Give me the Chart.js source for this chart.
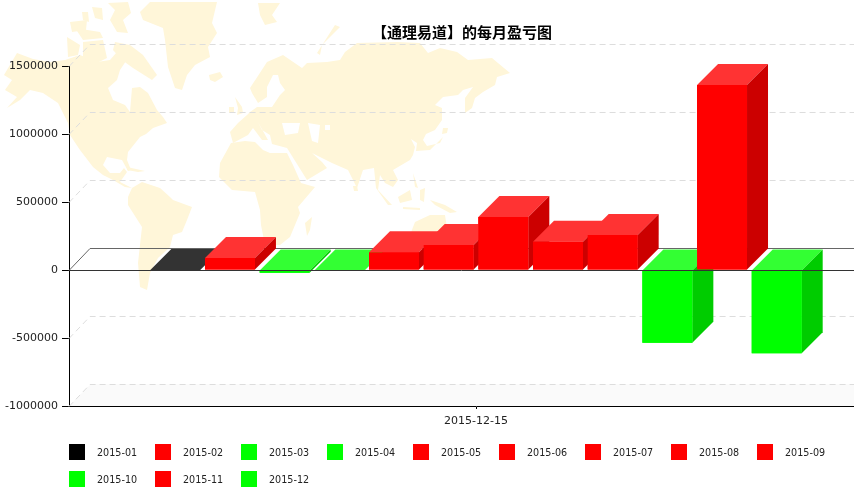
<!DOCTYPE html>
<html><head><meta charset="utf-8">
<style>
html,body{margin:0;padding:0;background:#fff;overflow:hidden}
#wrap{position:relative;width:854px;height:504px;overflow:hidden}
#map{position:absolute;left:0;top:0}
canvas{position:absolute;left:0;top:0}
</style>
<script src="https://cdn.jsdelivr.net/npm/chart.js@4/dist/chart.umd.min.js"></script>
</head><body>
<div id="wrap">
<svg id="map" width="854" height="504" viewBox="0 0 854 504">
<g fill="#FFF6D9" fill-rule="evenodd">
<path d="M4 75L17 53L33 59L50 62L65 60L80 55L97 62L110 60L117 52L128 58L120 70L117 80L108 88L113 100L125 105L130 112L132 88L140 87L148 93L157 110L163 117L167 123L153 128L146 134L140 137L128 152L127 160L131 170L128 171L122 160L107 157L103 165L110 173L120 173L124 168L127 172L120 182L132 188L125 187L113 180L103 175L93 167L80 150L70 135L68 123L58 103L43 93L30 90L20 100L7 108L17 97L5 90L12 80Z"/>
<path d="M67 37L80 45L78 55L68 57Z"/><path d="M70 22L87 20L86 30L72 32Z"/><path d="M82 12L88 12L89 22L83 20Z"/>
<path d="M92 7L102 8L103 20L95 18Z"/><path d="M108 3L128 2L131 13L123 20L128 33L117 32L110 20L115 10Z"/>
<path d="M115 42L130 45L143 55L157 75L152 80L133 68L122 60L113 50Z"/><path d="M83 42L103 40L107 58L93 65L83 57Z"/><path d="M75 28L100 32L103 38L83 40Z"/>
<path d="M127 167L145 171L138 172L127 170Z"/>
<path d="M150 2L217 2L212 23L217 33L208 47L210 57L195 65L187 75L182 90L175 88L168 67L165 40L163 28L143 20L140 12Z"/>
<path d="M209 75L220 72L223 77L215 82L210 80Z"/>
<path d="M258 3L280 3L272 15L277 22L265 25L260 15Z"/>
<path d="M317 53L335 25L340 27L322 45L320 55Z"/>
<path d="M132 188L142 182L160 188L170 197L173 200L192 207L187 220L182 232L173 235L170 247L158 258L150 273L147 290L140 287L138 263L142 227L128 205L128 197Z"/>
<path d="M302 68L307 63L327 62L340 60L345 52L357 43L397 42L420 43L428 53L440 48L457 52L468 60L492 58L510 73L497 77L495 85L483 92L475 98L472 108L465 113L465 98L473 87L463 90L458 95L443 97L435 105L442 108L442 120L435 130L426 134L423 140L427 146L440 143L443 137L430 150L416 151L417 143L411 139L415 147L413 155L410 160L393 170L398 180L393 187L385 183L380 175L378 190L392 205L388 205L376 188L374 168L363 170L357 188L348 170L332 163L320 157L312 153L322 162L327 168L307 180L292 156L287 148L272 144L270 135L262 130L258 122L268 140L262 140L253 128L248 135L233 143L230 132L238 123L247 115L250 112L257 107L272 107L280 95L285 90L280 83L278 75L273 75L267 87L267 97L258 103L252 93L250 88L267 62L283 55Z M282 123L300 123L298 133L285 135Z M308 123L320 125L318 143L312 141Z M325 125L330 125L330 130L325 130Z"/>
<path d="M235 97L242 107L243 113L237 115L238 108Z"/><path d="M229 107L234 107L234 113L229 113Z"/>
<path d="M443 128L448 128L447 133L442 134Z"/>
<path d="M231 143L245 141L255 142L263 150L270 153L287 153L293 165L301 183L315 187L298 207L300 213L290 237L280 245L265 245L261 225L260 210L255 192L232 190L219 177L220 163Z"/>
<path d="M305 223L312 217L310 230L307 236Z"/>
<path d="M353 186L357 186L358 191L354 191Z"/>
<path d="M398 197L410 190L412 200L400 203Z"/><path d="M413 173L418 188L415 187Z"/>
<path d="M420 190L425 188L424 202L420 200Z"/><path d="M403 207L420 208L420 210L403 209Z"/>
<path d="M430 200L445 205L457 212L450 213L435 205Z"/>
<path d="M415 222L430 215L445 215L447 228L444 235L410 235Z"/>
</g>
</svg>
<canvas id="c" width="883" height="504" style="width:883px;height:504px"></canvas>
</div>
<script>
const categories = ["2015-12-15"];
const months = ["2015-01","2015-02","2015-03","2015-04","2015-05","2015-06","2015-07","2015-08","2015-09","2015-10","2015-11","2015-12"];
const profits = [0,88000,-20000,-6000,130000,184000,390000,208000,257000,-535000,1360000,-612000];
const frontColors = ["#000000","#FF0000","#00FF00","#00FF00","#FF0000","#FF0000","#FF0000","#FF0000","#FF0000","#00FF00","#FF0000","#00FF00"];
const topColors = ["#333333","#FF3333","#33FF33","#33FF33","#FF3333","#FF3333","#FF3333","#FF3333","#FF3333","#33FF33","#FF3333","#33FF33"];
const sideColors = ["#000000","#CC0000","#00CC00","#00CC00","#CC0000","#CC0000","#CC0000","#CC0000","#CC0000","#00CC00","#CC0000","#00CC00"];
const titleText = "【通理易道】的每月盈亏图";
const yMin = -1000000, yMax = 1500000, yStep = 500000;

const DEPTH = 21, LINE_DEPTH = 22, LEGEND_FONT = "9.6px 'DejaVu Sans'";
function poly(ctx, pts, fill){
  ctx.beginPath();
  pts.forEach((p,i)=> i ? ctx.lineTo(p[0],p[1]) : ctx.moveTo(p[0],p[1]));
  ctx.closePath(); ctx.fillStyle = fill; ctx.fill();
}
const threeD = {
  id:'threeD',
  beforeDatasetsDraw(chart){
    const ctx = chart.ctx, ys = chart.scales.y, L = chart.chartArea.left, R = 854;
    ctx.save();
    const by = ys.getPixelForValue(yMin);
    poly(ctx,[[L,by],[L+LINE_DEPTH,by-LINE_DEPTH],[R,by-LINE_DEPTH],[R,by]],'#FAFAFA');
    ctx.lineWidth = 1; ctx.strokeStyle = '#DDDDDD'; ctx.setLineDash([6,4]);
    for(let v=yMin; v<=yMax; v+=yStep){
      if(v===0) continue;
      const y = Math.round(ys.getPixelForValue(v))+0.5;
      ctx.beginPath(); ctx.moveTo(L,y); ctx.lineTo(L+DEPTH,y-LINE_DEPTH); ctx.lineTo(R,y-LINE_DEPTH); ctx.stroke();
    }
    ctx.restore();
  },
  afterDatasetsDraw(chart){
    const ctx = chart.ctx, ys = chart.scales.y, L = chart.chartArea.left, R = 854;
    const zero = ys.getPixelForValue(0);
    const bar = (i)=>{
      const el = chart.getDatasetMeta(i).data[0];
      const {x,y,base,width} = el.getProps(['x','y','base','width'],true);
      const x1=x-width/2, x2=x+width/2, t=Math.min(y,base), b=Math.max(y,base);
      poly(ctx,[[x1,t],[x1+DEPTH,t-DEPTH],[x2+DEPTH,t-DEPTH],[x2,t]],topColors[i]);
      poly(ctx,[[x2,t],[x2+DEPTH,t-DEPTH],[x2+DEPTH,b-DEPTH],[x2,b]],sideColors[i]);
      el.draw(ctx);
    };
    ctx.save();
    ctx.setLineDash([]); ctx.lineWidth = 1;
    const zy = Math.round(zero)+0.5;
    ctx.strokeStyle = '#666666';
    ctx.beginPath(); ctx.moveTo(L,zy); ctx.lineTo(L+DEPTH,zy-LINE_DEPTH); ctx.lineTo(R,zy-LINE_DEPTH); ctx.stroke();
    profits.forEach((v,i)=>{ if(v<=0) bar(i); });
    ctx.strokeStyle = '#333333';
    ctx.beginPath(); ctx.moveTo(L,zy); ctx.lineTo(R,zy); ctx.stroke();
    profits.forEach((v,i)=>{ if(v>0) bar(i); });
    ctx.restore();
  },
  afterDraw(chart){
    const ctx = chart.ctx, L = chart.chartArea.left;
    ctx.save();
    ctx.fillStyle = '#000';
    ctx.textBaseline = 'middle'; ctx.textAlign = 'center';
    ctx.font = "bold 15px 'Noto Sans CJK SC'";
    ctx.fillText(titleText, 462, 32);
    ctx.textAlign = 'left';
    ctx.font = LEGEND_FONT;
    months.forEach((m,i)=>{
      const col = i%9, row = Math.floor(i/9);
      const x = L + col*86, y = 444 + row*27;
      ctx.fillStyle = frontColors[i];
      ctx.fillRect(x,y,16,16);
      ctx.fillStyle = '#222222';
      ctx.fillText(m, x+28, y+9);
    });
    ctx.restore();
  }
};
new Chart(document.getElementById('c'),{
  type:'bar',
  data:{
    labels:categories,
    datasets:months.map((m,i)=>({label:m,data:[profits[i]],backgroundColor:frontColors[i],borderWidth:0}))
  },
  options:{
    responsive:false, animation:false, devicePixelRatio:1,
    layout:{padding:{top:66,left:0,right:0,bottom:0}},
    datasets:{bar:{categoryPercentage:0.806,barPercentage:0.914}},
    plugins:{legend:{display:false},title:{display:false},tooltip:{enabled:false}},
    scales:{
      x:{
        afterFit(s){s.height=98;},
        grid:{offset:false,drawOnChartArea:false,drawTicks:true,tickLength:3,tickColor:'#000',color:'#000'},
        border:{color:'#000',width:1},
        ticks:{color:'#222',font:{family:"'DejaVu Sans'",size:11},padding:6,maxRotation:0}
      },
      y:{
        min:yMin,max:yMax,
        afterFit(s){s.width=69;},
        grid:{drawOnChartArea:false,drawTicks:true,tickLength:7,tickColor:'#000',color:'#000'},
        border:{color:'#000',width:1},
        ticks:{stepSize:yStep,color:'#222',font:{family:"'DejaVu Sans'",size:11},padding:4,callback:v=>String(v)}
      }
    }
  },
  plugins:[threeD]
});
</script>
</body></html>
